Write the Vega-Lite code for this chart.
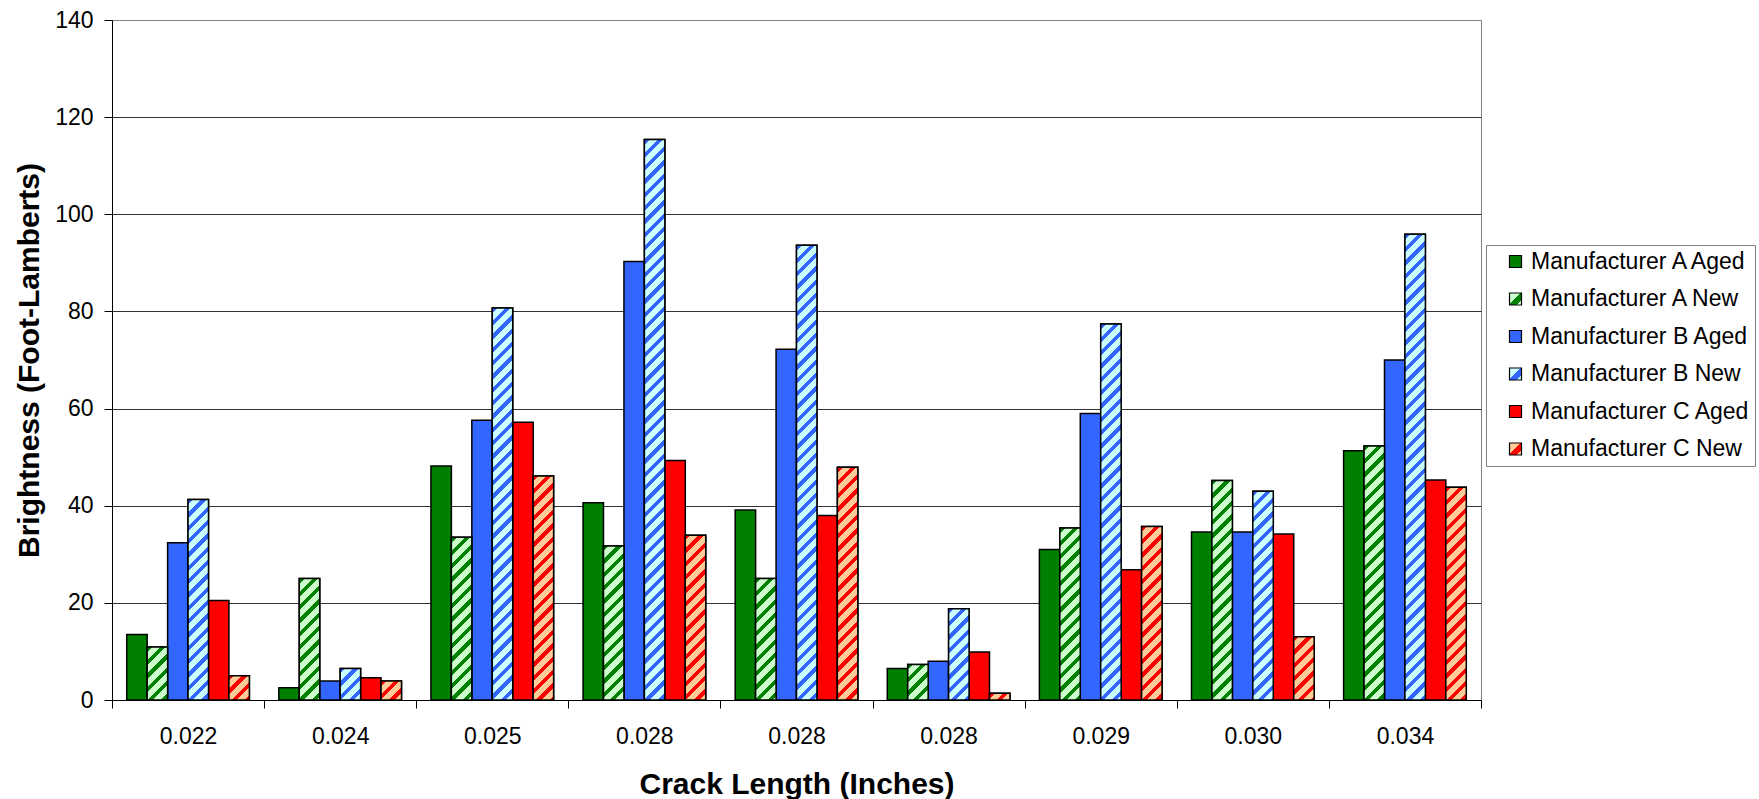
{
"$schema":"https://vega.github.io/schema/vega-lite/v6.json",
"width":1369,"height":680,
"autosize":{"type":"none"},
"padding":{"left":112,"top":20,"right":278,"bottom":99},
"background":"white",
"params":[
{"name":"gradA","value":{"gradient":"linear","x1":0,"y1":0,"x2":1,"y2":1,"stops":[{"offset":0,"color":"#cfc"},{"offset":0.45,"color":"#cfc"},{"offset":0.45,"color":"green"},{"offset":0.8,"color":"green"},{"offset":0.8,"color":"#cfc"},{"offset":1,"color":"#cfc"}]}},
{"name":"gradB","value":{"gradient":"linear","x1":0,"y1":0,"x2":1,"y2":1,"stops":[{"offset":0,"color":"#cff"},{"offset":0.45,"color":"#cff"},{"offset":0.45,"color":"#36f"},{"offset":0.8,"color":"#36f"},{"offset":0.8,"color":"#cff"},{"offset":1,"color":"#cff"}]}},
{"name":"gradC","value":{"gradient":"linear","x1":0,"y1":0,"x2":1,"y2":1,"stops":[{"offset":0,"color":"#fc9"},{"offset":0.45,"color":"#fc9"},{"offset":0.45,"color":"red"},{"offset":0.8,"color":"red"},{"offset":0.8,"color":"#fc9"},{"offset":1,"color":"#fc9"}]}},
{"name":"stopsA","value":[{"offset":0,"color":"green"},{"offset":0.016,"color":"green"},{"offset":0.016,"color":"#cfc"},{"offset":0.04,"color":"#cfc"},{"offset":0.04,"color":"green"},{"offset":0.056,"color":"green"},{"offset":0.056,"color":"#cfc"},{"offset":0.08,"color":"#cfc"},{"offset":0.08,"color":"green"},{"offset":0.096,"color":"green"},{"offset":0.096,"color":"#cfc"},{"offset":0.12,"color":"#cfc"},{"offset":0.12,"color":"green"},{"offset":0.136,"color":"green"},{"offset":0.136,"color":"#cfc"},{"offset":0.16,"color":"#cfc"},{"offset":0.16,"color":"green"},{"offset":0.176,"color":"green"},{"offset":0.176,"color":"#cfc"},{"offset":0.2,"color":"#cfc"},{"offset":0.2,"color":"green"},{"offset":0.216,"color":"green"},{"offset":0.216,"color":"#cfc"},{"offset":0.24,"color":"#cfc"},{"offset":0.24,"color":"green"},{"offset":0.256,"color":"green"},{"offset":0.256,"color":"#cfc"},{"offset":0.28,"color":"#cfc"},{"offset":0.28,"color":"green"},{"offset":0.296,"color":"green"},{"offset":0.296,"color":"#cfc"},{"offset":0.32,"color":"#cfc"},{"offset":0.32,"color":"green"},{"offset":0.336,"color":"green"},{"offset":0.336,"color":"#cfc"},{"offset":0.36,"color":"#cfc"},{"offset":0.36,"color":"green"},{"offset":0.376,"color":"green"},{"offset":0.376,"color":"#cfc"},{"offset":0.4,"color":"#cfc"},{"offset":0.4,"color":"green"},{"offset":0.416,"color":"green"},{"offset":0.416,"color":"#cfc"},{"offset":0.44,"color":"#cfc"},{"offset":0.44,"color":"green"},{"offset":0.456,"color":"green"},{"offset":0.456,"color":"#cfc"},{"offset":0.48,"color":"#cfc"},{"offset":0.48,"color":"green"},{"offset":0.496,"color":"green"},{"offset":0.496,"color":"#cfc"},{"offset":0.52,"color":"#cfc"},{"offset":0.52,"color":"green"},{"offset":0.536,"color":"green"},{"offset":0.536,"color":"#cfc"},{"offset":0.56,"color":"#cfc"},{"offset":0.56,"color":"green"},{"offset":0.576,"color":"green"},{"offset":0.576,"color":"#cfc"},{"offset":0.6,"color":"#cfc"},{"offset":0.6,"color":"green"},{"offset":0.616,"color":"green"},{"offset":0.616,"color":"#cfc"},{"offset":0.64,"color":"#cfc"},{"offset":0.64,"color":"green"},{"offset":0.656,"color":"green"},{"offset":0.656,"color":"#cfc"},{"offset":0.68,"color":"#cfc"},{"offset":0.68,"color":"green"},{"offset":0.696,"color":"green"},{"offset":0.696,"color":"#cfc"},{"offset":0.72,"color":"#cfc"},{"offset":0.72,"color":"green"},{"offset":0.736,"color":"green"},{"offset":0.736,"color":"#cfc"},{"offset":0.76,"color":"#cfc"},{"offset":0.76,"color":"green"},{"offset":0.776,"color":"green"},{"offset":0.776,"color":"#cfc"},{"offset":0.8,"color":"#cfc"},{"offset":0.8,"color":"green"},{"offset":0.816,"color":"green"},{"offset":0.816,"color":"#cfc"},{"offset":0.84,"color":"#cfc"},{"offset":0.84,"color":"green"},{"offset":0.856,"color":"green"},{"offset":0.856,"color":"#cfc"},{"offset":0.88,"color":"#cfc"},{"offset":0.88,"color":"green"},{"offset":0.896,"color":"green"},{"offset":0.896,"color":"#cfc"},{"offset":0.92,"color":"#cfc"},{"offset":0.92,"color":"green"},{"offset":0.936,"color":"green"},{"offset":0.936,"color":"#cfc"},{"offset":0.96,"color":"#cfc"},{"offset":0.96,"color":"green"},{"offset":0.976,"color":"green"},{"offset":0.976,"color":"#cfc"},{"offset":1,"color":"#cfc"}]},
{"name":"stopsC","value":[{"offset":0,"color":"red"},{"offset":0.016,"color":"red"},{"offset":0.016,"color":"#fc9"},{"offset":0.04,"color":"#fc9"},{"offset":0.04,"color":"red"},{"offset":0.056,"color":"red"},{"offset":0.056,"color":"#fc9"},{"offset":0.08,"color":"#fc9"},{"offset":0.08,"color":"red"},{"offset":0.096,"color":"red"},{"offset":0.096,"color":"#fc9"},{"offset":0.12,"color":"#fc9"},{"offset":0.12,"color":"red"},{"offset":0.136,"color":"red"},{"offset":0.136,"color":"#fc9"},{"offset":0.16,"color":"#fc9"},{"offset":0.16,"color":"red"},{"offset":0.176,"color":"red"},{"offset":0.176,"color":"#fc9"},{"offset":0.2,"color":"#fc9"},{"offset":0.2,"color":"red"},{"offset":0.216,"color":"red"},{"offset":0.216,"color":"#fc9"},{"offset":0.24,"color":"#fc9"},{"offset":0.24,"color":"red"},{"offset":0.256,"color":"red"},{"offset":0.256,"color":"#fc9"},{"offset":0.28,"color":"#fc9"},{"offset":0.28,"color":"red"},{"offset":0.296,"color":"red"},{"offset":0.296,"color":"#fc9"},{"offset":0.32,"color":"#fc9"},{"offset":0.32,"color":"red"},{"offset":0.336,"color":"red"},{"offset":0.336,"color":"#fc9"},{"offset":0.36,"color":"#fc9"},{"offset":0.36,"color":"red"},{"offset":0.376,"color":"red"},{"offset":0.376,"color":"#fc9"},{"offset":0.4,"color":"#fc9"},{"offset":0.4,"color":"red"},{"offset":0.416,"color":"red"},{"offset":0.416,"color":"#fc9"},{"offset":0.44,"color":"#fc9"},{"offset":0.44,"color":"red"},{"offset":0.456,"color":"red"},{"offset":0.456,"color":"#fc9"},{"offset":0.48,"color":"#fc9"},{"offset":0.48,"color":"red"},{"offset":0.496,"color":"red"},{"offset":0.496,"color":"#fc9"},{"offset":0.52,"color":"#fc9"},{"offset":0.52,"color":"red"},{"offset":0.536,"color":"red"},{"offset":0.536,"color":"#fc9"},{"offset":0.56,"color":"#fc9"},{"offset":0.56,"color":"red"},{"offset":0.576,"color":"red"},{"offset":0.576,"color":"#fc9"},{"offset":0.6,"color":"#fc9"},{"offset":0.6,"color":"red"},{"offset":0.616,"color":"red"},{"offset":0.616,"color":"#fc9"},{"offset":0.64,"color":"#fc9"},{"offset":0.64,"color":"red"},{"offset":0.656,"color":"red"},{"offset":0.656,"color":"#fc9"},{"offset":0.68,"color":"#fc9"},{"offset":0.68,"color":"red"},{"offset":0.696,"color":"red"},{"offset":0.696,"color":"#fc9"},{"offset":0.72,"color":"#fc9"},{"offset":0.72,"color":"red"},{"offset":0.736,"color":"red"},{"offset":0.736,"color":"#fc9"},{"offset":0.76,"color":"#fc9"},{"offset":0.76,"color":"red"},{"offset":0.776,"color":"red"},{"offset":0.776,"color":"#fc9"},{"offset":0.8,"color":"#fc9"},{"offset":0.8,"color":"red"},{"offset":0.816,"color":"red"},{"offset":0.816,"color":"#fc9"},{"offset":0.84,"color":"#fc9"},{"offset":0.84,"color":"red"},{"offset":0.856,"color":"red"},{"offset":0.856,"color":"#fc9"},{"offset":0.88,"color":"#fc9"},{"offset":0.88,"color":"red"},{"offset":0.896,"color":"red"},{"offset":0.896,"color":"#fc9"},{"offset":0.92,"color":"#fc9"},{"offset":0.92,"color":"red"},{"offset":0.936,"color":"red"},{"offset":0.936,"color":"#fc9"},{"offset":0.96,"color":"#fc9"},{"offset":0.96,"color":"red"},{"offset":0.976,"color":"red"},{"offset":0.976,"color":"#fc9"},{"offset":1,"color":"#fc9"}]},
{"name":"stopsB","value":[{"offset":0,"color":"#36f"},{"offset":0.008,"color":"#36f"},{"offset":0.008,"color":"#cff"},{"offset":0.02,"color":"#cff"},{"offset":0.02,"color":"#36f"},{"offset":0.028,"color":"#36f"},{"offset":0.028,"color":"#cff"},{"offset":0.04,"color":"#cff"},{"offset":0.04,"color":"#36f"},{"offset":0.048,"color":"#36f"},{"offset":0.048,"color":"#cff"},{"offset":0.06,"color":"#cff"},{"offset":0.06,"color":"#36f"},{"offset":0.068,"color":"#36f"},{"offset":0.068,"color":"#cff"},{"offset":0.08,"color":"#cff"},{"offset":0.08,"color":"#36f"},{"offset":0.088,"color":"#36f"},{"offset":0.088,"color":"#cff"},{"offset":0.1,"color":"#cff"},{"offset":0.1,"color":"#36f"},{"offset":0.108,"color":"#36f"},{"offset":0.108,"color":"#cff"},{"offset":0.12,"color":"#cff"},{"offset":0.12,"color":"#36f"},{"offset":0.128,"color":"#36f"},{"offset":0.128,"color":"#cff"},{"offset":0.14,"color":"#cff"},{"offset":0.14,"color":"#36f"},{"offset":0.148,"color":"#36f"},{"offset":0.148,"color":"#cff"},{"offset":0.16,"color":"#cff"},{"offset":0.16,"color":"#36f"},{"offset":0.168,"color":"#36f"},{"offset":0.168,"color":"#cff"},{"offset":0.18,"color":"#cff"},{"offset":0.18,"color":"#36f"},{"offset":0.188,"color":"#36f"},{"offset":0.188,"color":"#cff"},{"offset":0.2,"color":"#cff"},{"offset":0.2,"color":"#36f"},{"offset":0.208,"color":"#36f"},{"offset":0.208,"color":"#cff"},{"offset":0.22,"color":"#cff"},{"offset":0.22,"color":"#36f"},{"offset":0.228,"color":"#36f"},{"offset":0.228,"color":"#cff"},{"offset":0.24,"color":"#cff"},{"offset":0.24,"color":"#36f"},{"offset":0.248,"color":"#36f"},{"offset":0.248,"color":"#cff"},{"offset":0.26,"color":"#cff"},{"offset":0.26,"color":"#36f"},{"offset":0.268,"color":"#36f"},{"offset":0.268,"color":"#cff"},{"offset":0.28,"color":"#cff"},{"offset":0.28,"color":"#36f"},{"offset":0.288,"color":"#36f"},{"offset":0.288,"color":"#cff"},{"offset":0.3,"color":"#cff"},{"offset":0.3,"color":"#36f"},{"offset":0.308,"color":"#36f"},{"offset":0.308,"color":"#cff"},{"offset":0.32,"color":"#cff"},{"offset":0.32,"color":"#36f"},{"offset":0.328,"color":"#36f"},{"offset":0.328,"color":"#cff"},{"offset":0.34,"color":"#cff"},{"offset":0.34,"color":"#36f"},{"offset":0.348,"color":"#36f"},{"offset":0.348,"color":"#cff"},{"offset":0.36,"color":"#cff"},{"offset":0.36,"color":"#36f"},{"offset":0.368,"color":"#36f"},{"offset":0.368,"color":"#cff"},{"offset":0.38,"color":"#cff"},{"offset":0.38,"color":"#36f"},{"offset":0.388,"color":"#36f"},{"offset":0.388,"color":"#cff"},{"offset":0.4,"color":"#cff"},{"offset":0.4,"color":"#36f"},{"offset":0.408,"color":"#36f"},{"offset":0.408,"color":"#cff"},{"offset":0.42,"color":"#cff"},{"offset":0.42,"color":"#36f"},{"offset":0.428,"color":"#36f"},{"offset":0.428,"color":"#cff"},{"offset":0.44,"color":"#cff"},{"offset":0.44,"color":"#36f"},{"offset":0.448,"color":"#36f"},{"offset":0.448,"color":"#cff"},{"offset":0.46,"color":"#cff"},{"offset":0.46,"color":"#36f"},{"offset":0.468,"color":"#36f"},{"offset":0.468,"color":"#cff"},{"offset":0.48,"color":"#cff"},{"offset":0.48,"color":"#36f"},{"offset":0.488,"color":"#36f"},{"offset":0.488,"color":"#cff"},{"offset":0.5,"color":"#cff"},{"offset":0.5,"color":"#36f"},{"offset":0.508,"color":"#36f"},{"offset":0.508,"color":"#cff"},{"offset":0.52,"color":"#cff"},{"offset":0.52,"color":"#36f"},{"offset":0.528,"color":"#36f"},{"offset":0.528,"color":"#cff"},{"offset":0.54,"color":"#cff"},{"offset":0.54,"color":"#36f"},{"offset":0.548,"color":"#36f"},{"offset":0.548,"color":"#cff"},{"offset":0.56,"color":"#cff"},{"offset":0.56,"color":"#36f"},{"offset":0.568,"color":"#36f"},{"offset":0.568,"color":"#cff"},{"offset":0.58,"color":"#cff"},{"offset":0.58,"color":"#36f"},{"offset":0.588,"color":"#36f"},{"offset":0.588,"color":"#cff"},{"offset":0.6,"color":"#cff"},{"offset":0.6,"color":"#36f"},{"offset":0.608,"color":"#36f"},{"offset":0.608,"color":"#cff"},{"offset":0.62,"color":"#cff"},{"offset":0.62,"color":"#36f"},{"offset":0.628,"color":"#36f"},{"offset":0.628,"color":"#cff"},{"offset":0.64,"color":"#cff"},{"offset":0.64,"color":"#36f"},{"offset":0.648,"color":"#36f"},{"offset":0.648,"color":"#cff"},{"offset":0.66,"color":"#cff"},{"offset":0.66,"color":"#36f"},{"offset":0.668,"color":"#36f"},{"offset":0.668,"color":"#cff"},{"offset":0.68,"color":"#cff"},{"offset":0.68,"color":"#36f"},{"offset":0.688,"color":"#36f"},{"offset":0.688,"color":"#cff"},{"offset":0.7,"color":"#cff"},{"offset":0.7,"color":"#36f"},{"offset":0.708,"color":"#36f"},{"offset":0.708,"color":"#cff"},{"offset":0.72,"color":"#cff"},{"offset":0.72,"color":"#36f"},{"offset":0.728,"color":"#36f"},{"offset":0.728,"color":"#cff"},{"offset":0.74,"color":"#cff"},{"offset":0.74,"color":"#36f"},{"offset":0.748,"color":"#36f"},{"offset":0.748,"color":"#cff"},{"offset":0.76,"color":"#cff"},{"offset":0.76,"color":"#36f"},{"offset":0.768,"color":"#36f"},{"offset":0.768,"color":"#cff"},{"offset":0.78,"color":"#cff"},{"offset":0.78,"color":"#36f"},{"offset":0.788,"color":"#36f"},{"offset":0.788,"color":"#cff"},{"offset":0.8,"color":"#cff"},{"offset":0.8,"color":"#36f"},{"offset":0.808,"color":"#36f"},{"offset":0.808,"color":"#cff"},{"offset":0.82,"color":"#cff"},{"offset":0.82,"color":"#36f"},{"offset":0.828,"color":"#36f"},{"offset":0.828,"color":"#cff"},{"offset":0.84,"color":"#cff"},{"offset":0.84,"color":"#36f"},{"offset":0.848,"color":"#36f"},{"offset":0.848,"color":"#cff"},{"offset":0.86,"color":"#cff"},{"offset":0.86,"color":"#36f"},{"offset":0.868,"color":"#36f"},{"offset":0.868,"color":"#cff"},{"offset":0.88,"color":"#cff"},{"offset":0.88,"color":"#36f"},{"offset":0.888,"color":"#36f"},{"offset":0.888,"color":"#cff"},{"offset":0.9,"color":"#cff"},{"offset":0.9,"color":"#36f"},{"offset":0.908,"color":"#36f"},{"offset":0.908,"color":"#cff"},{"offset":0.92,"color":"#cff"},{"offset":0.92,"color":"#36f"},{"offset":0.928,"color":"#36f"},{"offset":0.928,"color":"#cff"},{"offset":0.94,"color":"#cff"},{"offset":0.94,"color":"#36f"},{"offset":0.948,"color":"#36f"},{"offset":0.948,"color":"#cff"},{"offset":0.96,"color":"#cff"},{"offset":0.96,"color":"#36f"},{"offset":0.968,"color":"#36f"},{"offset":0.968,"color":"#cff"},{"offset":0.98,"color":"#cff"},{"offset":0.98,"color":"#36f"},{"offset":0.988,"color":"#36f"},{"offset":0.988,"color":"#cff"},{"offset":1,"color":"#cff"}]}
],
"data":{"values":[
{"crack":"0.022","series":"Manufacturer A Aged","v":13.5},
{"crack":"0.022","series":"Manufacturer A New","v":10.9},
{"crack":"0.022","series":"Manufacturer B Aged","v":32.4},
{"crack":"0.022","series":"Manufacturer B New","v":41.3},
{"crack":"0.022","series":"Manufacturer C Aged","v":20.5},
{"crack":"0.022","series":"Manufacturer C New","v":5.0},
{"crack":"0.024","series":"Manufacturer A Aged","v":2.5},
{"crack":"0.024","series":"Manufacturer A New","v":25.0},
{"crack":"0.024","series":"Manufacturer B Aged","v":3.9},
{"crack":"0.024","series":"Manufacturer B New","v":6.5},
{"crack":"0.024","series":"Manufacturer C Aged","v":4.6},
{"crack":"0.024","series":"Manufacturer C New","v":3.9},
{"crack":"0.025","series":"Manufacturer A Aged","v":48.2},
{"crack":"0.025","series":"Manufacturer A New","v":33.5},
{"crack":"0.025","series":"Manufacturer B Aged","v":57.6},
{"crack":"0.025","series":"Manufacturer B New","v":80.7},
{"crack":"0.025","series":"Manufacturer C Aged","v":57.2},
{"crack":"0.025","series":"Manufacturer C New","v":46.1},
{"crack":"0.028","series":"Manufacturer A Aged","v":40.6},
{"crack":"0.028","series":"Manufacturer A New","v":31.7},
{"crack":"0.028","series":"Manufacturer B Aged","v":90.3},
{"crack":"0.028","series":"Manufacturer B New","v":115.4},
{"crack":"0.028","series":"Manufacturer C Aged","v":49.3},
{"crack":"0.028","series":"Manufacturer C New","v":33.9},
{"crack":"0.028\u200b","series":"Manufacturer A Aged","v":39.1},
{"crack":"0.028\u200b","series":"Manufacturer A New","v":25.0},
{"crack":"0.028\u200b","series":"Manufacturer B Aged","v":72.2},
{"crack":"0.028\u200b","series":"Manufacturer B New","v":93.6},
{"crack":"0.028\u200b","series":"Manufacturer C Aged","v":38.0},
{"crack":"0.028\u200b","series":"Manufacturer C New","v":47.9},
{"crack":"0.028\u200b\u200b","series":"Manufacturer A Aged","v":6.5},
{"crack":"0.028\u200b\u200b","series":"Manufacturer A New","v":7.3},
{"crack":"0.028\u200b\u200b","series":"Manufacturer B Aged","v":8.0},
{"crack":"0.028\u200b\u200b","series":"Manufacturer B New","v":18.8},
{"crack":"0.028\u200b\u200b","series":"Manufacturer C Aged","v":9.9},
{"crack":"0.028\u200b\u200b","series":"Manufacturer C New","v":1.4},
{"crack":"0.029","series":"Manufacturer A Aged","v":31.0},
{"crack":"0.029","series":"Manufacturer A New","v":35.4},
{"crack":"0.029","series":"Manufacturer B Aged","v":59.0},
{"crack":"0.029","series":"Manufacturer B New","v":77.4},
{"crack":"0.029","series":"Manufacturer C Aged","v":26.8},
{"crack":"0.029","series":"Manufacturer C New","v":35.7},
{"crack":"0.030","series":"Manufacturer A Aged","v":34.6},
{"crack":"0.030","series":"Manufacturer A New","v":45.2},
{"crack":"0.030","series":"Manufacturer B Aged","v":34.6},
{"crack":"0.030","series":"Manufacturer B New","v":43.0},
{"crack":"0.030","series":"Manufacturer C Aged","v":34.2},
{"crack":"0.030","series":"Manufacturer C New","v":13.0},
{"crack":"0.034","series":"Manufacturer A Aged","v":51.3},
{"crack":"0.034","series":"Manufacturer A New","v":52.3},
{"crack":"0.034","series":"Manufacturer B Aged","v":70.0},
{"crack":"0.034","series":"Manufacturer B New","v":95.9},
{"crack":"0.034","series":"Manufacturer C Aged","v":45.3},
{"crack":"0.034","series":"Manufacturer C New","v":43.8}
]},
"encoding":{
"x":{"field":"crack","type":"nominal","sort":null,
 "scale":{"domain":["0.022","0.024","0.025","0.028","0.028\u200b","0.028\u200b\u200b","0.029","0.030","0.034"],"paddingInner":0,"paddingOuter":0},
 "axis":{"title":"Crack Length (Inches)","labelAngle":0,"tickBand":"extent","labelExpr":"substring(datum.label, 0, 5)","labelBaseline":"alphabetic","labelPadding":35,"tickSize":8,"titleX":684.5,"titleY":93,"titleBaseline":"alphabetic","titleAlign":"center","titleAnchor":null}},
"xOffset":{"field":"series","type":"nominal","scale":{"domain":["Manufacturer A Aged","Manufacturer A New","Manufacturer B Aged","Manufacturer B New","Manufacturer C Aged","Manufacturer C New"],"paddingInner":0,"paddingOuter":0.72}},
"y":{"field":"v","type":"quantitative","scale":{"domain":[0,140],"nice":false,"zero":true},
 "axis":{"title":"Brightness (Foot-Lamberts)","values":[0,20,40,60,80,100,120,140],"grid":true,
  "gridColor":{"condition":{"test":"datum.value === 140","value":"#808080"},"value":"#333333"},
  "tickSize":8,"labelPadding":11,"titleX":-74,"titleY":340,"titleAngle":-90,"titleBaseline":"alphabetic","titleAlign":"center"}}
},
"layer":[
{"mark":{"type":"bar","stroke":"black","strokeWidth":1.5},
 "encoding":{"color":{"field":"series","type":"nominal",
  "scale":{"domain":["Manufacturer A Aged","Manufacturer A New","Manufacturer B Aged","Manufacturer B New","Manufacturer C Aged","Manufacturer C New"],
   "range":["green",{"expr":"gradA"},"#36f",{"expr":"gradB"},"red",{"expr":"gradC"}]},
  "legend":{"title":null,"orient":"none","legendX":1374,"legendY":225,"labelExpr":"datum.label + '            '"}}}},
{"transform":[{"filter":"indexof(datum.series, 'New') >= 0"}],
 "mark":{"type":"bar","stroke":"black","strokeWidth":1.5,
  "fill":{"expr":"{gradient: 'linear', x1: 0, y1: 0, x2: (datum.series == 'Manufacturer B New' ? 666.67 : 333.33) * bandwidth('xOffset') / (pow(bandwidth('xOffset'), 2) + pow(scale('y', 0) - scale('y', datum.v), 2)), y2: (datum.series == 'Manufacturer B New' ? 666.67 : 333.33) * (scale('y', 0) - scale('y', datum.v)) / (pow(bandwidth('xOffset'), 2) + pow(scale('y', 0) - scale('y', datum.v), 2)), stops: datum.series == 'Manufacturer A New' ? stopsA : (datum.series == 'Manufacturer B New' ? stopsB : stopsC)}"}}}
],
"config":{
 "font":"Liberation Sans",
 "view":{"stroke":"#808080","strokeWidth":1},
 "axis":{"labelFont":"Liberation Sans","labelFontSize":23,"labelColor":"black","titleFont":"Liberation Sans","titleFontSize":30,"titleFontWeight":"bold","titleColor":"black","domainColor":"black","domainWidth":1,"tickColor":"black","tickWidth":1,"gridWidth":1},
 "legend":{"labelFont":"Liberation Sans","labelFontSize":23,"labelColor":"black","labelLimit":0,"symbolType":"square","symbolSize":144,"symbolStrokeColor":"black","symbolStrokeWidth":1.2,"symbolOpacity":1,"strokeColor":"#808080","fillColor":"white","padding":5,"rowPadding":13.5,"symbolOffset":13,"labelOffset":4}
}
}
